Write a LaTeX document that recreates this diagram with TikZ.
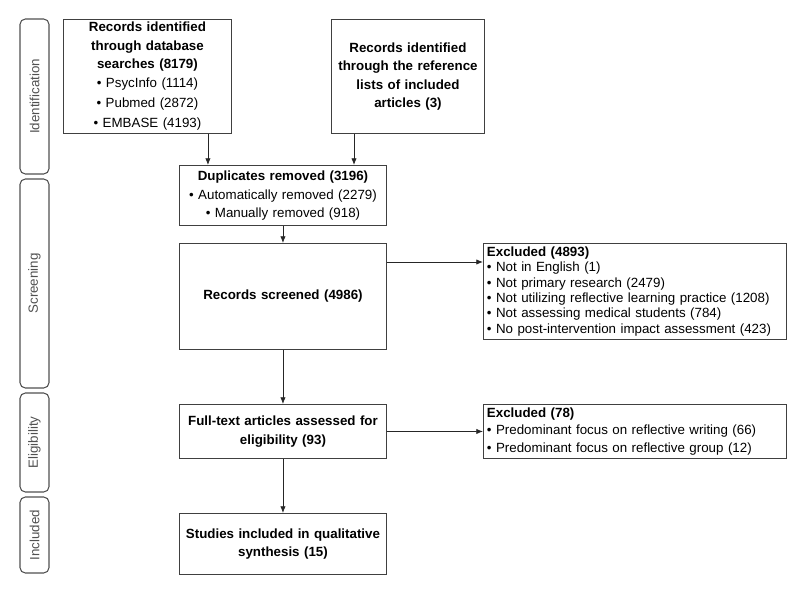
\documentclass[tikz,border=0pt]{standalone}
\usepackage{fontspec}
\setmainfont{Liberation Sans}
\usetikzlibrary{positioning, arrows.meta}
\definecolor{flowline}{RGB}{64,64,64}
\definecolor{phasegray}{RGB}{80,80,80}

\begin{document}
\begin{tikzpicture}[x=0.75pt, y=-0.75pt,
    box/.style={draw=flowline, line width=0.7pt, anchor=north west, inner sep=2pt, align=center,
      font=\fontsize{10}{13.7}\selectfont\bfseries},
    exbox/.style={box, align=left, inner sep=2.5pt, minimum width=227.25pt, text width=222pt},
    phase/.style={draw=phasegray, line width=0.8pt, rounded corners=4pt, rotate=90, inner sep=0pt,
      minimum height=21.75pt, text=phasegray, font=\fontsize{10}{12}\selectfont},
    arr/.style={-{Latex[length=5pt,width=4pt]}, line width=0.6pt, draw=black!85}]
  \useasboundingbox (0,0) rectangle (800,595);
  % phases on the left
  \node[phase, minimum width=116.25pt] (ident) at (34.5,96.5) {Identification};
  \node[phase, minimum width=156.75pt] (screen) at (34.5,283.5) {Screening};
  \node[phase, minimum width=74.25pt] (elig) at (34.5,442.5) {Eligibility};
  \node[phase, minimum width=57pt] (incl) at (34.5,535) {Included};
  % flow boxes
  \node[box, minimum width=126pt, minimum height=85.5pt, text width=120pt] (db) at (63,19)
    {Records identified\\ through database\\ searches (8179)\\[0.8pt]
     \normalfont\textbullet{} PsycInfo (1114)\\[1.2pt] \textbullet{} Pubmed (2872)\\[1.4pt] \textbullet{} EMBASE (4193)};
  \node[box, minimum width=114.75pt, minimum height=85.5pt, text width=110pt] (refl) at (331,19)
    {Records identified\\ through the reference\\ lists of included\\ articles (3)};
  \node[box, minimum width=155.25pt, minimum height=45pt, text width=150pt] (dup) at (179,165)
    {Duplicates removed (3196)\\[0.6pt] \normalfont\textbullet{} Automatically removed (2279)\\ \textbullet{} Manually removed (918)};
  \node[box, minimum width=155.25pt, minimum height=79.5pt, text width=150pt] (scr) at (179,243)
    {Records screened (4986)};
  \node[box, minimum width=155.25pt, minimum height=40.5pt, text width=150pt] (full) at (179,404)
    {Full-text articles assessed for\\ eligibility (93)};
  \node[box, minimum width=155.25pt, minimum height=45.75pt, text width=150pt] (stud) at (179,513)
    {Studies included in qualitative\\ synthesis (15)};
  \node[exbox, minimum height=71.25pt, font=\fontsize{10}{11.5}\selectfont\bfseries] (exscr) at (483,243)
    {Excluded (4893)\\ \normalfont\textbullet{} Not in English (1)\\ \textbullet{} Not primary research (2479)\\
     \textbullet{} Not utilizing reflective learning practice (1208)\\ \textbullet{} Not assessing medical students (784)\\
     \textbullet{} No post-intervention impact assessment (423)};
  \node[exbox, minimum height=40.5pt, font=\fontsize{10}{13.1}\selectfont\bfseries] (exfull) at (483,404)
    {Excluded (78)\\ \normalfont\textbullet{} Predominant focus on reflective writing (66)\\
     \textbullet{} Predominant focus on reflective group (12)};
  % connectors
  \draw[arr] ([xshift=-18pt]db.south east) -- ([xshift=-18pt]db.south east |- dup.north);
  \draw[arr] ([xshift=17.25pt]refl.south west) -- ([xshift=17.25pt]refl.south west |- dup.north);
  \draw[arr] (dup) -- (scr);
  \draw[arr] ([yshift=-14.25pt]scr.north east) -- ([yshift=-14.25pt]scr.north east -| exscr.west);
  \draw[arr] (scr) -- (full);
  \draw[arr] (full) -- (exfull);
  \draw[arr] (full) -- (stud);
\end{tikzpicture}
\end{document}
